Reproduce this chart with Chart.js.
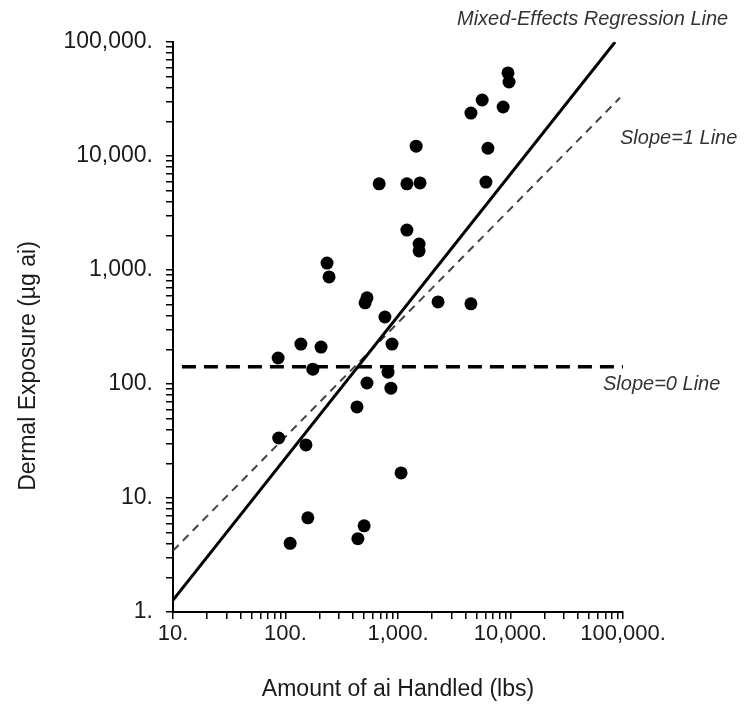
<!DOCTYPE html>
<html>
<head>
<meta charset="utf-8">
<script src="https://cdn.jsdelivr.net/npm/chart.js@4"></script>
<style>
  html, body { margin: 0; padding: 0; background: #fff; }
  #wrap { width: 744px; height: 715px; }
</style>
</head>
<body>
<div id="wrap"><canvas id="chart" width="744" height="715"></canvas></div>
<script>
// Observed dermal exposure vs. amount of active ingredient handled
const amountHandled = [9500, 9700, 5600, 4450, 8600, 1450, 6300, 680, 1200, 1570, 6050,
  1200, 1540, 1540, 234, 244, 530, 510, 2270, 4450, 765, 137, 207, 86, 175, 885, 815,
  530, 865, 432, 87, 152, 1065, 158, 500, 110, 440];
const dermalExposure = [53500, 44600, 31000, 23800, 26900, 12200, 11700, 5700, 5700, 5800, 5900,
  2240, 1690, 1470, 1150, 870, 570, 515, 525, 505, 387, 224, 211, 169, 135, 224, 127,
  102, 92, 63, 33.6, 29.2, 16.6, 6.7, 5.7, 4.0, 4.4];

// Fitted and reference lines (end points in data units)
const regressionX = [10, 85000];
const regressionY = [1.27, 100000];
const slopeOneX = [10, 94000];
const slopeOneY = [3.45, 32400];
const slopeZeroX = [12, 100000];
const slopeZeroY = [142, 142];

// Axis decades and their labels
const xDecades = [10, 100, 1000, 10000, 100000];
const xTickLabels = ['10.', '100.', '1,000.', '10,000.', '100,000.'];
const yDecades = [1, 10, 100, 1000, 10000, 100000];
const yTickLabels = ['1.', '10.', '100.', '1,000.', '10,000.', '100,000.'];
const minorSteps = [1, 2, 3, 4, 5, 6, 7, 8, 9];

const xTitle = 'Amount of ai Handled (lbs)';
const yTitle = 'Dermal Exposure (\u00b5g ai)';
const regressionLabel = 'Mixed-Effects Regression Line';
const slopeOneLabel = 'Slope=1 Line';
const slopeZeroLabel = 'Slope=0 Line';

function logTicks(decades) {
  const out = [];
  decades.forEach((d, i) => {
    if (i === decades.length - 1) { out.push(d); return; }
    minorSteps.forEach(m => out.push(d * m));
  });
  return out;
}
function decadeLabel(decades, labels, v) {
  const i = decades.findIndex(d => Math.abs(d - v) / d < 1e-9);
  return i >= 0 ? labels[i] : '';
}

const pairs = (xs, ys) => xs.map((x, i) => ({ x, y: ys[i] }));

const FONT = '"Liberation Sans", Arial, Helvetica, sans-serif';

const textLayer = {
  id: 'textLayer',
  afterDraw(chart) {
    const ctx = chart.ctx;
    ctx.save();
    ctx.fillStyle = '#1a1a1a';
    ctx.font = '23px ' + FONT;
    ctx.textAlign = 'center';
    ctx.textBaseline = 'middle';
    ctx.fillText(xTitle, 398, 690);
    ctx.save();
    ctx.translate(29, 366);
    ctx.rotate(-Math.PI / 2);
    ctx.fillText(yTitle, 0, 0);
    ctx.restore();

    ctx.fillStyle = '#333';
    ctx.font = 'italic 20px ' + FONT;
    ctx.textAlign = 'left';
    ctx.fillText(regressionLabel, 457, 19);
    ctx.fillText(slopeOneLabel, 620, 138);
    ctx.fillText(slopeZeroLabel, 603, 384);
    ctx.restore();
  }
};

new Chart(document.getElementById('chart'), {
  type: 'scatter',
  data: {
    datasets: [
      {
        label: 'Observations',
        data: pairs(amountHandled, dermalExposure),
        backgroundColor: '#000',
        borderWidth: 0,
        pointRadius: 6.5,
        order: 0
      },
      {
        label: regressionLabel,
        type: 'line',
        data: pairs(regressionX, regressionY),
        borderColor: '#000',
        borderWidth: 3,
        pointRadius: 0,
        order: 1
      },
      {
        label: slopeOneLabel,
        type: 'line',
        data: pairs(slopeOneX, slopeOneY),
        borderColor: '#444',
        borderWidth: 2,
        borderDash: [8, 6],
        pointRadius: 0,
        order: 2
      },
      {
        label: slopeZeroLabel,
        type: 'line',
        data: pairs(slopeZeroX, slopeZeroY),
        borderColor: '#000',
        borderWidth: 3.5,
        borderDash: [14, 8],
        pointRadius: 0,
        order: 3
      }
    ]
  },
  options: {
    responsive: false,
    animation: false,
    layout: { padding: { top: 42, right: 121, left: 0, bottom: 0 } },
    plugins: { legend: { display: false }, tooltip: { enabled: false } },
    scales: {
      x: {
        type: 'logarithmic',
        min: 10,
        max: 100000,
        afterBuildTicks: s => { s.ticks = logTicks(xDecades).map(v => ({ value: v })); },
        afterFit: s => { s.height = 103; },
        border: { display: true, color: '#000', width: 2 },
        grid: { drawOnChartArea: false, drawTicks: true, tickLength: 7, color: '#000', lineWidth: 1.5 },
        ticks: {
          autoSkip: false, maxRotation: 0, padding: 2, color: '#1a1a1a',
          font: { family: FONT, size: 22 },
          callback: v => decadeLabel(xDecades, xTickLabels, v)
        }
      },
      y: {
        type: 'logarithmic',
        min: 1,
        max: 100000,
        afterBuildTicks: s => { s.ticks = logTicks(yDecades).map(v => ({ value: v })); },
        afterFit: s => { s.width = 173; },
        border: { display: true, color: '#000', width: 2 },
        grid: { drawOnChartArea: false, drawTicks: true, tickLength: 7, color: '#000', lineWidth: 1.5 },
        ticks: {
          autoSkip: false, padding: 13, color: '#1a1a1a',
          font: { family: FONT, size: 23 },
          callback: v => decadeLabel(yDecades, yTickLabels, v)
        }
      }
    }
  },
  plugins: [textLayer]
});
</script>
</body>
</html>
